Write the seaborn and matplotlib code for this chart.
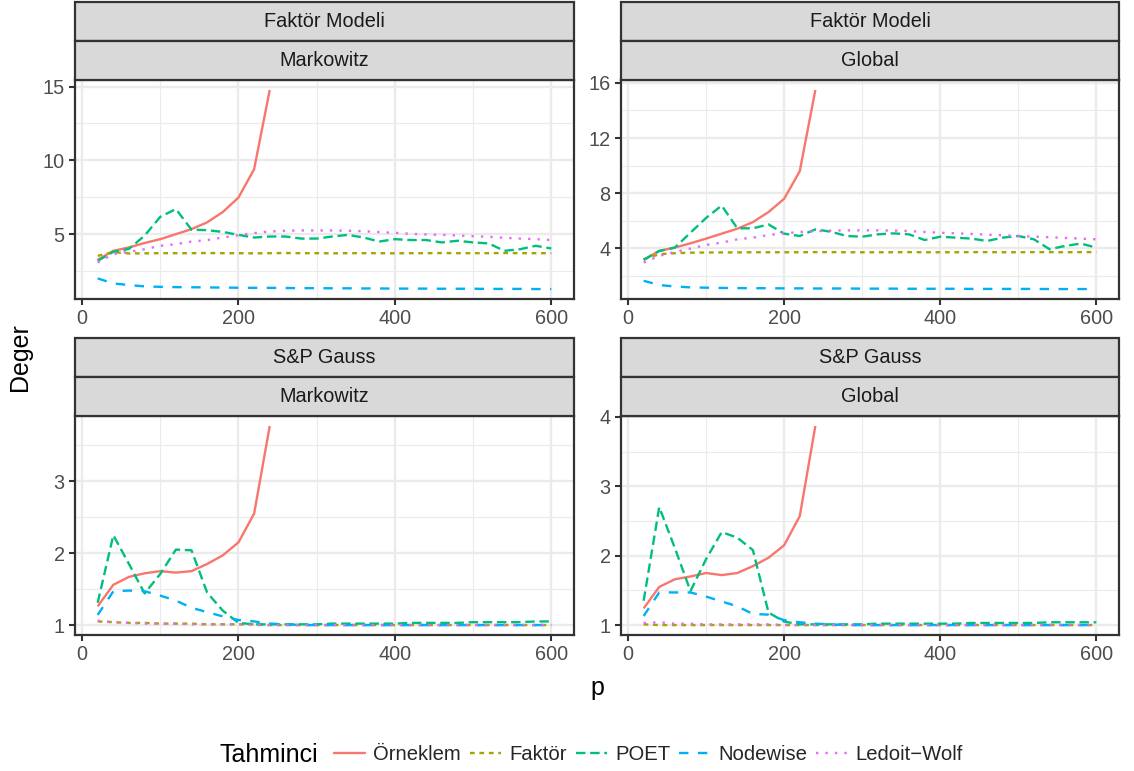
import numpy as np
import pandas as pd
import matplotlib
matplotlib.use("Agg")
import matplotlib.pyplot as plt
import seaborn as sns
from matplotlib.lines import Line2D
from matplotlib.patches import Rectangle
from matplotlib.ticker import MultipleLocator

# ---------------- data ----------------
p = list(range(20, 601, 20))
p_orn = p[:12]

estimators = ["Örneklem", "Faktör", "POET", "Nodewise", "Ledoit−Wolf"]
colors = ["#F8766D", "#A3A500", "#00BF7D", "#00B0F6", "#E76BF3"]

# Faktör Modeli / Markowitz
orn_TL = [3.26, 3.87, 4.10, 4.40, 4.66, 5.00, 5.34, 5.80, 6.50, 7.48, 9.40, 14.77]
fak_TL = [3.53, 3.78, 3.69, 3.70, 3.71, 3.71, 3.71, 3.72, 3.71, 3.71, 3.70, 3.71, 3.72, 3.71, 3.71,
          3.70, 3.71, 3.71, 3.71, 3.70, 3.71, 3.71, 3.72, 3.71, 3.71, 3.71, 3.72, 3.71, 3.71, 3.71]
poet_TL = [3.19, 3.80, 4.00, 4.90, 6.17, 6.70, 5.30, 5.27, 5.15, 4.95, 4.77, 4.84, 4.84, 4.70, 4.70,
           4.84, 4.95, 4.77, 4.50, 4.66, 4.60, 4.60, 4.44, 4.55, 4.44, 4.37, 3.87, 3.98, 4.21, 4.03]
node_TL = [2.00, 1.66, 1.55, 1.46, 1.43, 1.41, 1.40, 1.39, 1.38, 1.37, 1.36, 1.36, 1.35, 1.34, 1.34,
           1.33, 1.33, 1.32, 1.32, 1.31, 1.31, 1.31, 1.30, 1.30, 1.30, 1.29, 1.29, 1.29, 1.28, 1.28]
lw_TL = [3.08, 3.65, 3.80, 3.98, 4.21, 4.32, 4.50, 4.60, 4.77, 4.93, 5.07, 5.18, 5.23, 5.25, 5.25,
         5.25, 5.23, 5.20, 5.14, 5.09, 5.02, 4.98, 4.95, 4.91, 4.86, 4.82, 4.75, 4.70, 4.66, 4.60]

# Faktör Modeli / Global
orn_TR = [3.16, 3.81, 4.05, 4.36, 4.70, 5.06, 5.42, 5.90, 6.63, 7.59, 9.59, 15.49]
fak_TR = [3.20, 3.57, 3.64, 3.68, 3.69, 3.70, 3.70, 3.71, 3.71, 3.71, 3.71, 3.72, 3.72, 3.71, 3.71,
          3.71, 3.71, 3.72, 3.71, 3.71, 3.71, 3.72, 3.72, 3.71, 3.71, 3.72, 3.72, 3.71, 3.72, 3.72]
poet_TR = [3.16, 3.80, 4.05, 5.13, 6.20, 7.10, 5.45, 5.45, 5.73, 5.06, 4.89, 5.37, 5.20, 4.89, 4.84,
           5.01, 5.08, 5.01, 4.60, 4.84, 4.77, 4.70, 4.53, 4.77, 4.89, 4.65, 3.93, 4.17, 4.34, 4.05]
node_TR = [1.64, 1.33, 1.23, 1.16, 1.14, 1.12, 1.11, 1.10, 1.10, 1.09, 1.09, 1.08, 1.08, 1.08, 1.07,
           1.07, 1.07, 1.06, 1.06, 1.06, 1.06, 1.05, 1.05, 1.05, 1.05, 1.05, 1.04, 1.04, 1.04, 1.04]
lw_TR = [2.96, 3.45, 3.73, 3.98, 4.24, 4.41, 4.65, 4.77, 4.96, 5.08, 5.18, 5.23, 5.28, 5.30, 5.30,
         5.30, 5.28, 5.25, 5.18, 5.13, 5.08, 5.04, 4.99, 4.94, 4.89, 4.84, 4.80, 4.75, 4.70, 4.65]

# S&P Gauss / Markowitz
orn_BL = [1.26, 1.56, 1.67, 1.72, 1.75, 1.73, 1.75, 1.85, 1.97, 2.15, 2.55, 3.77]
fak_BL = [1.05, 1.04, 1.03, 1.03, 1.02, 1.02, 1.02, 1.01, 1.01, 1.01, 1.01, 1.00, 1.00, 1.00, 1.00,
          1.00, 1.00, 1.00, 1.00, 1.00, 1.00, 1.00, 1.00, 1.00, 1.00, 1.00, 1.00, 1.00, 1.00, 1.00]
poet_BL = [1.31, 2.25, 1.85, 1.44, 1.71, 2.05, 2.04, 1.45, 1.20, 1.03, 1.01, 1.01, 1.01, 1.01, 1.01,
           1.02, 1.02, 1.02, 1.02, 1.02, 1.03, 1.03, 1.03, 1.03, 1.04, 1.04, 1.04, 1.04, 1.05, 1.05]
node_BL = [1.14, 1.47, 1.48, 1.47, 1.41, 1.34, 1.24, 1.18, 1.12, 1.07, 1.05, 1.02, 1.01, 1.00, 1.00,
           1.00, 1.00, 1.00, 1.00, 1.00, 1.00, 1.00, 1.00, 1.00, 1.00, 1.00, 1.00, 1.00, 1.00, 1.00]
lw_BL = [1.06, 1.04, 1.03, 1.02, 1.02, 1.02, 1.01, 1.01, 1.01, 1.01, 1.00, 1.00, 1.00, 1.00, 1.00,
         1.00, 1.00, 1.00, 1.00, 1.00, 1.00, 1.00, 1.00, 1.00, 1.00, 1.00, 1.00, 1.00, 1.00, 1.00]

# S&P Gauss / Global
orn_BR = [1.24, 1.55, 1.66, 1.70, 1.75, 1.72, 1.75, 1.85, 1.97, 2.15, 2.57, 3.87]
fak_BR = [1.01, 1.00, 1.00, 1.00, 1.00, 1.00, 1.00, 1.00, 1.00, 1.00, 1.00, 1.00, 1.00, 1.00, 1.00,
          1.00, 1.00, 1.00, 1.00, 1.00, 1.00, 1.00, 1.00, 1.00, 1.00, 1.00, 1.00, 1.00, 1.00, 1.00]
poet_BR = [1.35, 2.70, 2.11, 1.49, 1.95, 2.34, 2.26, 2.08, 1.18, 1.05, 1.01, 1.01, 1.01, 1.01, 1.01,
           1.02, 1.02, 1.02, 1.02, 1.02, 1.02, 1.03, 1.03, 1.03, 1.03, 1.03, 1.04, 1.04, 1.04, 1.04]
node_BR = [1.13, 1.47, 1.47, 1.47, 1.41, 1.34, 1.27, 1.16, 1.15, 1.07, 1.04, 1.02, 1.01, 1.00, 1.00,
           1.00, 1.00, 1.00, 1.00, 1.00, 1.00, 1.00, 1.00, 1.00, 1.00, 1.00, 1.00, 1.00, 1.00, 1.00]
lw_BR = [1.03, 1.04, 1.02, 1.02, 1.01, 1.01, 1.01, 1.01, 1.01, 1.00, 1.00, 1.00, 1.00, 1.00, 1.00,
         1.00, 1.00, 1.00, 1.00, 1.00, 1.00, 1.00, 1.00, 1.00, 1.00, 1.00, 1.00, 1.00, 1.00, 1.00]

panels = [
    ("Faktör Modeli", "Markowitz", [orn_TL, fak_TL, poet_TL, node_TL, lw_TL], 5),
    ("Faktör Modeli", "Global", [orn_TR, fak_TR, poet_TR, node_TR, lw_TR], 4),
    ("S&P Gauss", "Markowitz", [orn_BL, fak_BL, poet_BL, node_BL, lw_BL], 1),
    ("S&P Gauss", "Global", [orn_BR, fak_BR, poet_BR, node_BR, lw_BR], 1),
]

# ---------------- style ----------------
sns.set_style("white")
plt.rcParams["font.family"] = ["Liberation Sans", "DejaVu Sans"]

palette = dict(zip(estimators, colors))
dashes = {"Örneklem": "", "Faktör": (2, 2), "POET": (4, 2), "Nodewise": (4, 4), "Ledoit−Wolf": (1, 3)}
LW = 1.7
W, H = 1134, 771

fig = plt.figure(figsize=(W / 100, H / 100), dpi=100)

# plot-area boxes in pixels (left, top, right, bottom)
boxes = [(75, 80, 574, 299), (621, 80, 1119, 299), (75, 416, 574, 635), (621, 416, 1119, 635)]
strip_h = 39

for (top_lab, sub_lab, series, ymaj), (l, t, r, b) in zip(panels, boxes):
    ax = fig.add_axes([l / W, 1 - b / H, (r - l) / W, (b - t) / H])
    rows = []
    for name, vals in zip(estimators, series):
        xs = p_orn if name == "Örneklem" else p
        for x, v in zip(xs, vals):
            rows.append((x, v, name))
    df = pd.DataFrame(rows, columns=["p", "Deger", "Tahminci"])
    sns.lineplot(data=df, x="p", y="Deger", hue="Tahminci", style="Tahminci",
                 hue_order=estimators, style_order=estimators, palette=palette,
                 dashes=dashes, estimator=None, linewidth=LW, legend=False, ax=ax)
    for ln in ax.get_lines():
        ln.set_dash_capstyle("butt")
        ln.set_solid_capstyle("butt")
    allv = np.concatenate([np.asarray(s, float) for s in series])
    lo, hi = allv.min(), allv.max()
    rng = hi - lo
    ax.set_ylim(lo - 0.05 * rng, hi + 0.05 * rng)
    ax.set_xlim(20 - 0.05 * 580, 600 + 0.05 * 580)
    ax.xaxis.set_major_locator(MultipleLocator(200))
    ax.xaxis.set_minor_locator(MultipleLocator(100))
    ax.yaxis.set_major_locator(MultipleLocator(ymaj))
    ax.yaxis.set_minor_locator(MultipleLocator(ymaj / 2))
    ax.grid(which="major", color="#EBEBEB", linewidth=1.7)
    ax.grid(which="minor", color="#EBEBEB", linewidth=0.85)
    ax.set_axisbelow(True)
    ax.set_xlabel("")
    ax.set_ylabel("")
    for s in ax.spines.values():
        s.set_color("#333333")
        s.set_linewidth(1.6)
        s.set_visible(True)
    ax.tick_params(which="major", length=4.4, width=1.5, color="#333333",
                   labelsize=14.3, labelcolor="#4D4D4D", pad=3, bottom=True, left=True)
    ax.tick_params(which="minor", length=0)
    # strips
    for k, lab in enumerate([top_lab, sub_lab]):
        y0 = t - strip_h * (2 - k)
        rect = Rectangle((l / W, 1 - (y0 + strip_h) / H), (r - l) / W, strip_h / H,
                         transform=fig.transFigure, facecolor="#D9D9D9",
                         edgecolor="#333333", linewidth=1.6, zorder=3)
        fig.add_artist(rect)
        fig.text((l + r) / 2 / W, 1 - (y0 + strip_h / 2) / H, lab, ha="center", va="center",
                 fontsize=14.3, color="#1A1A1A", zorder=4)

fig.text(597 / W, 1 - 688 / H, "p", ha="center", va="center", fontsize=18, color="black")
fig.text(20 / W, 1 - 357 / H, "Deger", ha="center", va="center", rotation=90,
         fontsize=18, color="black")

# legend
handles = [Line2D([0], [0], color=c, linewidth=LW,
                  linestyle=((0, dashes[n]) if dashes[n] else "-"),
                  dash_capstyle="butt")
           for n, c in zip(estimators, colors)]
fig.text(219 / W, 1 - 755 / H, "Tahminci", ha="left", va="center", fontsize=18, color="black")
fig.legend(handles, estimators, loc="center left", bbox_to_anchor=(334 / W, 1 - 755 / H),
           ncol=5, frameon=False, fontsize=14.6, handlelength=1.55, handletextpad=0.38,
           columnspacing=0.45, borderpad=0, borderaxespad=0)

fig.savefig("out.png", dpi=100)
